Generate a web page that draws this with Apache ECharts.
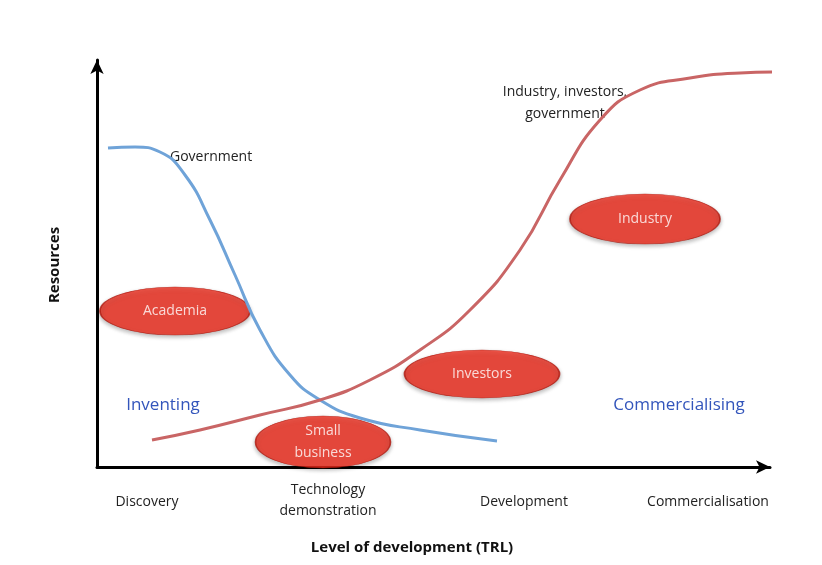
<!DOCTYPE html><html><head><meta charset="utf-8"><script src="https://cdn.jsdelivr.net/npm/echarts@6/dist/echarts.min.js"></script></head><body style="margin:0;background:#fff"><div id="c" style="width:822px;height:565px"></div><script>
const X0=97,XW=673,Y0=467,YH=407;
const px=(p)=>[(p[0]-X0)/XW*100,(Y0-p[1])/YH*100];
const governmentCurve=[[108,148],[135,147],[160,152],[185,175],[210,220],[235,275],[260,330],[290,375],[320,400],[360,418],[420,430],[497,441]].map(px);
const industryCurve=[[152,440],[200,430],[260,415],[320,400],[370,380],[420,350],[470,310],[520,250],[560,180],[600,120],[640,90],[690,78],[740,73],[787,72]].map(px);
const actors=[{name:'Academia',p:[175,311],s:[150,48]},{name:'Small\nbusiness',p:[323,442],s:[135,52]},{name:'Investors',p:[482,374],s:[155,48]},{name:'Industry',p:[645,219],s:[150,50]}];
const stageLabels=[['Discovery',147],['Technology\ndemonstration',328],['Development',524],['Commercialisation',708]];
const notes=[['Government',170,157,'#222','left'],['Industry, investors,\ngovernment',565,103,'#222','center'],['Inventing',163,405,'#3355bb','center'],['Commercialising',679,405,'#3355bb','center']];
const c=echarts.init(document.getElementById('c'));
const F='"Open Sans",sans-serif';
c.setOption({animation:false,
grid:{left:X0,top:Y0-YH,width:XW,height:YH},
xAxis:{type:'value',min:0,max:100,axisLine:{lineStyle:{color:'#000',width:3},symbol:['none','arrow'],symbolSize:[10,14]},axisTick:{show:false},axisLabel:{show:false},splitLine:{show:false}},
yAxis:{type:'value',min:0,max:100,axisLine:{show:true,lineStyle:{color:'#000',width:3},symbol:['none','arrow'],symbolSize:[10,14]},axisTick:{show:false},axisLabel:{show:false},splitLine:{show:false}},
series:[
{type:'line',data:governmentCurve,smooth:true,showSymbol:false,lineStyle:{color:'#6fa3d8',width:3}},
{type:'line',data:industryCurve,smooth:true,showSymbol:false,lineStyle:{color:'#c96565',width:3}},
{type:'scatter',data:actors.map(a=>({value:px(a.p),symbolSize:a.s,name:a.name})),symbol:'circle',
 itemStyle:{color:'#ee2a1c',borderColor:'#b01a10',borderWidth:1,shadowColor:'rgba(0,0,0,0.35)',shadowBlur:4,shadowOffsetY:2},
 label:{show:true,position:'inside',formatter:p=>p.name,color:'#fff',fontSize:14,fontFamily:F,lineHeight:22}}
]});
const g=[];
stageLabels.forEach(s=>g.push({type:'text',x:s[1],y:s[0].includes('\n')?480:492,style:{text:s[0],fill:'#222',font:'14px '+F,align:'center',lineHeight:21}}));
notes.forEach(n=>g.push({type:'text',x:n[1],y:n[2],style:{text:n[0],fill:n[3],font:(n[3]=='#222'?'14px ':'17px ')+F,align:n[4],verticalAlign:'middle',lineHeight:22}}));
g.push({type:'text',x:412,y:548,style:{text:'Level of development (TRL)',fill:'#111',font:'bold 15px '+F,align:'center',verticalAlign:'middle'}});
g.push({type:'text',x:55,y:265,rotation:Math.PI/2,style:{text:'Resources',fill:'#111',font:'bold 15px '+F,align:'center',verticalAlign:'middle'}});
c.setOption({graphic:g});
</script></body></html>
